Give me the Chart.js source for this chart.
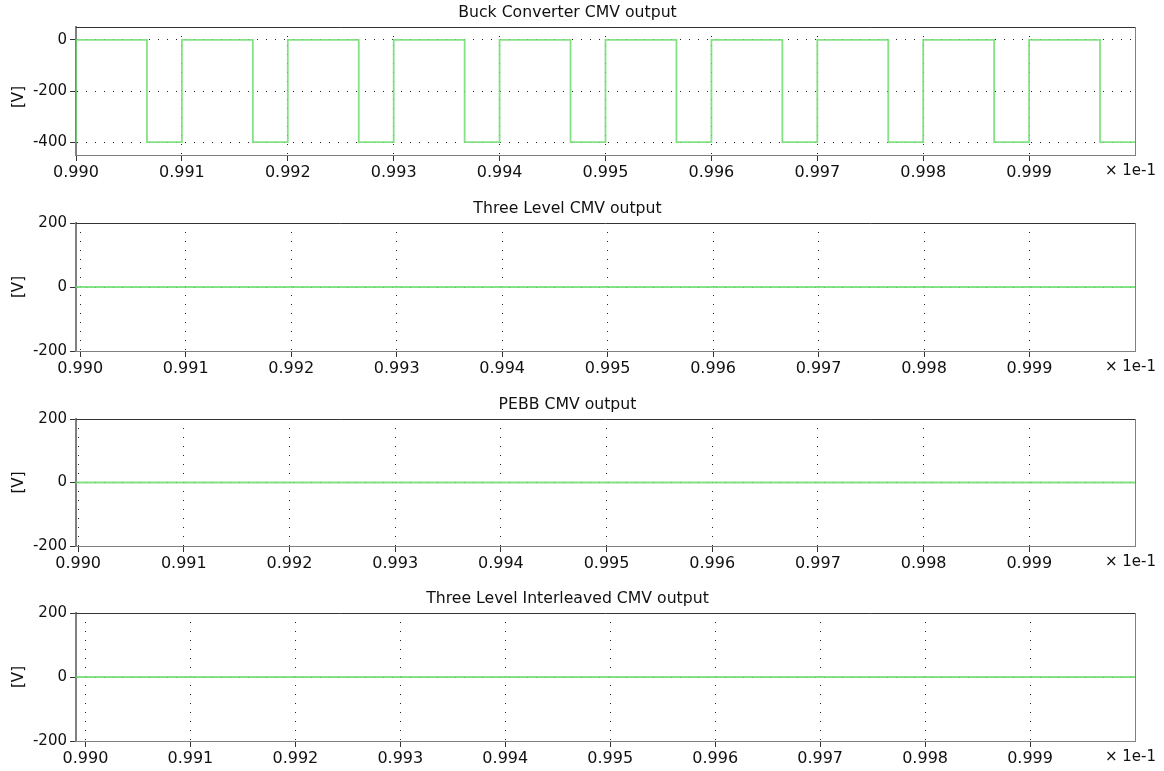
<!DOCTYPE html>
<html>
<head>
<meta charset="utf-8">
<script src="https://cdn.jsdelivr.net/npm/chart.js@4/dist/chart.umd.min.js"></script>
<style>
  body { margin:0; background:#fff; }
  #wrap { position:relative; width:1164px; height:771px; }
  .panel { position:absolute; left:0; width:1164px; }
</style>
</head>
<body>
<div id="wrap"></div>
<script>
// time axis shown in units of 1e-1 s
const xTicks = [0.990, 0.991, 0.992, 0.993, 0.994, 0.995, 0.996, 0.997, 0.998, 0.999];
const titles = ['Buck Converter CMV output', 'Three Level CMV output', 'PEBB CMV output', 'Three Level Interleaved CMV output'];

// buck converter: switching edges (rise to 0 V, fall to -400 V)
const buckRise = [0.990, 0.991, 0.992, 0.993, 0.994, 0.995, 0.996, 0.997, 0.998, 0.999];
const buckFall = [0.99067, 0.99167, 0.99267, 0.99367, 0.99467, 0.99567, 0.99667, 0.99767, 0.99867, 0.99967];
const buckHigh = 0;
const buckLow = -400;
const buckEnd = 1.000;

// other converters: flat 0 V
const flatT = [0.9899, 1.000];
const threeLevelV = [0, 0];
const pebbV = [0, 0];
const interleavedV = [0, 0];

const buckTicks = [0, -200, -400];
const flatTicks = [200, 0, -200];

const FONT = 'DejaVu Sans';
const LINE = 'rgba(112,220,112,0.85)';

function buckPoints(){
  const pts = [{x: buckRise[0], y: buckLow}];
  buckRise.forEach((r, i) => {
    pts.push({x: r, y: buckHigh});
    pts.push({x: buckFall[i], y: buckHigh});
    pts.push({x: buckFall[i], y: buckLow});
    const next = i + 1 < buckRise.length ? buckRise[i+1] : buckEnd;
    pts.push({x: next, y: buckLow});
  });
  return pts;
}
function flatPoints(vals){ return flatT.map((t, i) => ({x: t, y: vals[i]})); }

const framePlugin = {
  id: 'frame',
  afterDatasetsDraw(chart){
    const {ctx, chartArea: a} = chart;
    ctx.save();
    ctx.lineWidth = 1;
    ctx.strokeStyle = '#808080';
    ctx.beginPath();
    ctx.moveTo(Math.round(a.right) + 0.5, a.top);
    ctx.lineTo(Math.round(a.right) + 0.5, a.bottom);
    ctx.stroke();
    ctx.strokeStyle = '#333';
    ctx.beginPath();
    ctx.moveTo(a.left, Math.round(a.top) + 0.5);
    ctx.lineTo(a.right, Math.round(a.top) + 0.5);
    ctx.stroke();
    // axis unit and multiplier
    ctx.fillStyle = '#111';
    ctx.font = '15px "' + FONT + '"';
    ctx.textAlign = 'right';
    ctx.textBaseline = 'top';
    ctx.fillText('\u00d7 1e-1', 1156, a.bottom + 9);
    ctx.translate(19, (a.top + a.bottom) / 2 + chart.options.unitShift);
    ctx.rotate(-Math.PI / 2);
    ctx.textAlign = 'center';
    ctx.textBaseline = 'middle';
    ctx.fillText('[V]', 0, 0);
    ctx.restore();
  }
};

function makeChart(cfg){
  const div = document.createElement('div');
  div.className = 'panel';
  div.style.top = cfg.top + 'px';
  div.style.height = cfg.height + 'px';
  const cv = document.createElement('canvas');
  cv.width = 1164; cv.height = cfg.height;
  div.appendChild(cv);
  document.getElementById('wrap').appendChild(div);

  const grid = {
    color: '#222', lineWidth: 1,
    tickLength: 6, tickColor: '#333', tickBorderDash: []
  };
  new Chart(cv, {
    type: 'line',
    data: { datasets: [{ data: cfg.points, borderColor: LINE, borderWidth: 1.8, pointRadius: 0, tension: 0, fill: false }] },
    options: {
      responsive: false, animation: false, unitShift: cfg.unitShift || 0,
      layout: { padding: { left: 0, right: 29, top: 0, bottom: 0 } },
      plugins: {
        legend: { display: false }, tooltip: { enabled: false },
        title: { display: true, text: cfg.title, color: '#111', font: { family: FONT, size: 15.7, weight: 'normal' }, padding: { top: 4, bottom: 4.16 } }
      },
      scales: {
        x: {
          type: 'linear', min: cfg.xMin, max: 1.000,
          afterBuildTicks: s => { s.ticks = xTicks.map(v => ({value: v})); },
          afterFit: s => { s.height = cfg.height - 27 - cfg.plotH; },
          grid: grid,
          border: { color: '#808080', width: 1, dash: [1, 8] },
          ticks: { color: '#111', padding: 2, maxRotation: 0, autoSkip: false, font: { family: FONT, size: 16 }, callback: v => v.toFixed(3) }
        },
        y: {
          min: cfg.yMin, max: cfg.yMax,
          afterBuildTicks: s => { s.ticks = cfg.yTicks.map(v => ({value: v})); },
          afterFit: s => { s.width = 76; },
          grid: grid,
          border: { color: '#808080', width: 2, dash: [1, 8] },
          ticks: { color: '#111', padding: 3, font: { family: FONT, size: 15 }, callback: v => String(v) }
        }
      }
    },
    plugins: [framePlugin]
  });
}

makeChart({ top: 0, height: 196, plotH: 128, title: titles[0], points: buckPoints(), yMin: -450, yMax: 50, yTicks: buckTicks, xMin: 0.990, unitShift: 6 });
makeChart({ top: 196, height: 196, plotH: 128, title: titles[1], points: flatPoints(threeLevelV), yMin: -200, yMax: 200, yTicks: flatTicks, xMin: 0.98996 });
makeChart({ top: 392, height: 194, plotH: 127, title: titles[2], points: flatPoints(pebbV), yMin: -200, yMax: 200, yTicks: flatTicks, xMin: 0.98998 });
makeChart({ top: 586, height: 185, plotH: 128, title: titles[3], points: flatPoints(interleavedV), yMin: -200, yMax: 200, yTicks: flatTicks, xMin: 0.98991 });
</script>
</body>
</html>
